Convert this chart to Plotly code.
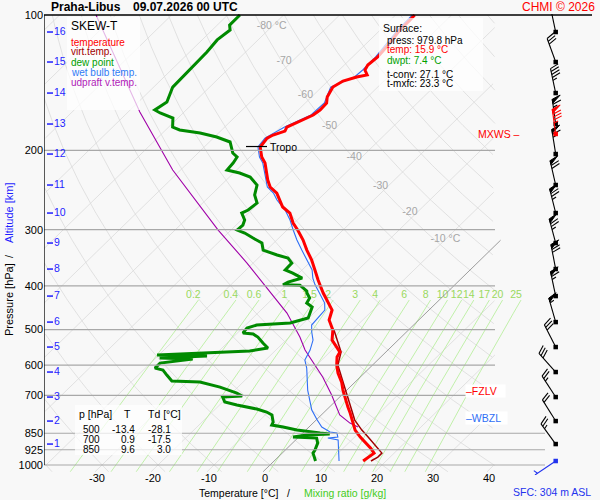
import numpy as np
import plotly.graph_objects as go

FONT = "Liberation Sans, Arial, sans-serif"

# --- sounding profiles: pressure [hPa], temperature [deg C] ---
temp_p = [100.0, 102.6, 108.0, 115.4, 124.0, 129.2, 132.5, 135.9, 137.3, 140.2,
          144.6, 152.1, 156.9, 162.6, 166.8, 172.0, 177.4, 181.1, 184.8, 187.7,
          196.5, 206.8, 213.3, 232.7, 241.1, 248.7, 257.7, 267.1, 275.5, 289.9,
          300.5, 316.3, 332.9, 350.4, 368.7, 388.1, 414.8, 434.4, 452.5, 476.3,
          501.3, 527.7, 546.9, 561.1, 575.6, 599.6, 624.7, 654.2, 681.5, 706.3,
          743.4, 766.6, 806.9, 836.3, 866.8, 894.3, 917.5, 940.9, 965.2, 979.8]
temp_t = [-56.6, -56.5, -56.5, -55.9, -55.5, -55.8, -55.4, -54.1, -55.6, -57.3,
          -58.0, -57.2, -56.2, -56.1, -56.4, -57.7, -58.9, -58.5, -59.9, -60.4,
          -60.0, -57.9, -56.2, -52.6, -50.9, -48.6, -46.8, -45.0, -42.6, -40.2,
          -38.1, -35.3, -32.8, -30.1, -27.7, -25.3, -22.0, -19.5, -17.3, -16.0,
          -13.5, -11.8, -9.7, -8.2, -7.8, -6.4, -4.7, -2.4, -0.7, 0.9,
          3.3, 4.8, 7.1, 8.8, 11.0, 13.1, 14.9, 16.4, 16.0, 15.9]

virt_p = [501.3, 561.1, 599.6, 654.2, 706.3, 743.4, 794.6, 836.3, 866.8, 903.0,
          940.9, 960.2, 979.8]
virt_t = [-13.3, -8.0, -6.2, -2.1, 1.5, 3.8, 6.9, 10.0, 12.4, 15.1,
          17.8, 17.8, 17.3]

dew_p = [100.0, 105.3, 108.0, 113.6, 120.9, 130.5, 138.0, 144.6, 156.1, 162.6,
         165.1, 169.4, 177.4, 180.1, 182.9, 186.7, 191.5, 202.6, 206.8, 213.3,
         221.1, 224.5, 229.1, 238.7, 251.2, 261.7, 271.3, 275.5, 285.5, 292.9,
         300.5, 305.2, 313.1, 321.2, 332.9, 341.5, 346.8, 355.8, 368.7, 374.5,
         384.2, 392.1, 397.5, 398.5, 410.6, 414.8, 425.6, 436.7, 445.7, 459.6,
         471.5, 483.7, 488.7, 496.2, 509.1, 511.7, 519.6, 535.8, 549.7, 558.2,
         564.0, 569.8, 572.7, 578.6, 581.6, 593.6, 609.0, 615.3, 631.2, 650.9,
         654.2, 671.2, 692.1, 702.8, 706.3, 724.7, 735.9, 751.1, 762.7, 774.5,
         802.8, 815.3, 823.6, 836.3, 849.3, 853.7, 858.1, 866.8, 871.3, 893.9,
         926.5, 940.9, 979.8]
dew_t = [-87.8, -87.8, -86.8, -87.3, -86.9, -86.7, -86.6, -86.6, -84.9, -85.6,
         -84.1, -80.9, -79.3, -77.5, -73.3, -69.6, -66.3, -63.8, -62.3, -61.9,
         -61.7, -58.9, -56.3, -53.6, -52.2, -50.3, -50.6, -51.2, -49.4, -48.8,
         -48.9, -47.0, -44.6, -42.1, -40.6, -37.2, -34.7, -33.1, -33.0, -31.1,
         -28.5, -30.3, -30.7, -27.6, -25.3, -24.9, -23.5, -23.1, -21.4, -20.7,
         -20.1, -22.4, -28.0, -29.2, -29.0, -27.0, -25.6, -23.6, -21.8, -24.5,
         -31.8, -40.3, -31.2, -39.3, -33.2, -38.3, -38.3, -36.5, -34.9, -32.9,
         -27.7, -23.2, -19.1, -17.6, -20.9, -19.6, -16.9, -12.6, -10.3, -8.8,
         -7.3, -7.0, -4.6, -1.6, 3.1, 5.0, 1.1, -1.0, 3.4, 4.5,
         5.3, 5.5, 7.4]

wet_p = [100.0, 108.0, 124.0, 132.5, 137.3, 144.6, 156.9, 166.8, 177.4, 187.7,
         196.5, 206.8, 213.3, 232.7, 241.1, 248.7, 257.7, 271.3, 285.5, 300.5,
         316.3, 332.9, 354.0, 368.7, 384.2, 398.2, 408.5, 423.4, 436.7, 452.5,
         488.7, 506.5, 527.7, 555.3, 584.5, 609.0, 640.9, 681.5, 717.3, 755.0,
         794.6, 823.6, 845.0, 849.3, 866.8, 871.3, 880.2, 917.5, 979.8]
wet_t = [-57.0, -56.9, -55.9, -55.8, -56.0, -58.4, -56.6, -56.8, -59.3, -60.8,
         -60.4, -58.3, -56.6, -53.0, -51.4, -49.2, -47.3, -44.0, -41.3, -38.9,
         -36.4, -33.7, -30.4, -28.2, -26.6, -24.9, -23.5, -21.5, -19.9, -18.6,
         -18.2, -16.9, -15.2, -13.9, -13.0, -11.2, -9.3, -7.0, -4.8, -2.6,
         0.2, 2.3, 4.7, 6.1, 7.0, 5.4, 7.6, 9.2, 11.6]

parcel_p = [100.0, 164.3, 221.1, 260.4, 300.5, 355.8, 402.3, 459.6, 519.6, 555.3,
            637.6, 699.2, 774.4, 807.0, 823.6]
parcel_t = [-113.5, -87.9, -71.4, -61.2, -52.3, -41.1, -33.2, -24.8, -18.1, -14.8,
            -6.7, -1.8, 3.3, 6.6, 8.75]

# --- altitude scale [km ASL] and winds at those levels ---
alt_km = [1, 2, 3, 4, 5, 6, 7, 8, 9, 10, 11, 12, 13, 14, 15, 16]
alt_p = [898.4, 798.7, 706.4, 621.5, 546.9, 481.3, 421.3, 366.9, 321.2, 275.5,
         238.7, 203.7, 174.7, 149.1, 127.2, 109.1]
wind_dir = [324, 328, 327, 318, 333, 344, 348, 349, 345, 346, 347, 351, 352, 348, 340, 348]
wind_kt = [25, 20, 25, 30, 30, 55, 65, 70, 75, 75, 70, 65, 65, 45, 30, 20]
sfc_p, sfc_dir, sfc_kt = 979.8, 236, 5
mxws_p, mxws_dir, mxws_kt = 183.8, 352, 85

# --- significant levels and tables ---
tropo_p = 196.0
fzlv_p = 685.0
wbzl_p = 787.0
press_ticks = [100, 200, 300, 400, 500, 600, 700, 850, 925, 1000]
temp_ticks = [-30, -20, -10, 0, 10, 20, 30, 40]
iso_label_t = [-80, -70, -60, -50, -40, -30, -20, -10]
iso_label_p = [106, 127, 151, 177, 207, 240, 274, 315]
mix_ratios = [0.2, 0.4, 0.6, 1, 1.5, 2, 3, 4, 6, 8, 10, 12, 14, 17, 20, 25]
table_p = [500, 700, 850]
table_t = [-13.4, 0.9, 9.6]
table_td = [-28.1, -17.5, 3.0]
surface_lines = [("press: 979.8 hPa", "black"), ("temp: 15.9 °C", "#ff0000"),
                 ("dwpt: 7.4 °C", "#00a000")]
conv_lines = ["t-conv: 27.1 °C", "t-mxfc: 23.3 °C"]

# --- diagram geometry (page pixels) ---
LEFT, RIGHT, TOP, BOTTOM = 44, 595, 14, 475
T0_PX, PX_PER_DEG = 270, 5.6                       # 0 degC at 1000 hPa
SKEW = 35.8                                        # degC per ln(1000/p)
PX_PER_LN = 450 / np.log(10)
X_GRID_MAX = (495 - T0_PX) / PX_PER_DEG
X_MIN = (LEFT - T0_PX) / PX_PER_DEG


def skew_x(t, p):
    return np.asarray(t, float) + SKEW * np.log(1000.0 / np.asarray(p, float))


def fx(px):
    return (px - LEFT) / (RIGHT - LEFT)


def fy(py):
    return (BOTTOM - py) / (BOTTOM - TOP)


def joined(lines):
    xs, ys = [], []
    for x, y in lines:
        xs += [None if not np.isfinite(v) else float(v) for v in x] + [None]
        ys += [float(v) for v in y] + [None]
    return xs, ys


def clip(x, hi=X_GRID_MAX):
    x = np.array(x, float)
    x[(x < X_MIN) | (x > hi)] = np.nan
    return x


def dewpoint_from_mixing(w, p):
    e = w * p / (622.0 + w)
    a = np.log(e / 6.112)
    return 243.5 * a / (17.67 - a)


fig = go.Figure()
pp = np.geomspace(1035, 100, 220)

# isotherms and dry adiabats
grid = []
for t in range(-140, 50, 10):
    if t != 0:
        grid.append((clip(skew_x(np.full_like(pp, t), pp)), pp))
for th in range(-40, 230, 10):
    tt = (th + 273.15) * (pp / 1000.0) ** 0.2857 - 273.15
    grid.append((clip(skew_x(tt, pp)), pp))
gx, gy = joined(grid)
fig.add_trace(go.Scatter(x=gx, y=gy, mode="lines", line=dict(color="#dadada", width=0.8),
                         hoverinfo="skip"))

# mixing ratio lines
mp = np.geomspace(1035, 430, 40)
mx, my = joined([(skew_x(dewpoint_from_mixing(w, mp), mp), mp) for w in mix_ratios])
fig.add_trace(go.Scatter(x=mx, y=my, mode="lines", line=dict(color="#b2ee96", width=0.8),
                         hoverinfo="skip"))
fig.add_trace(go.Scatter(
    x=[float(skew_x(dewpoint_from_mixing(w, 430.0), 430.0)) - 5 / PX_PER_DEG for w in mix_ratios],
    y=[419] * len(mix_ratios), mode="text",
    text=[f"{w:g}" for w in mix_ratios],
    textfont=dict(family=FONT, size=10.5, color="#9ad85e"), hoverinfo="skip"))

# 0 degC isotherm
fig.add_trace(go.Scatter(x=clip(skew_x(np.zeros_like(pp), pp), 41.5), y=pp, mode="lines",
                         line=dict(color="#858585", width=0.8), hoverinfo="skip"))

# isobars
iso_lines = [([LEFT, 495], [p, p]) for p in press_ticks if 100 < p <= 700]
iso_lines += [([LEFT, 545], [p, p]) for p in press_ticks if p > 700]
ix, iy = joined(iso_lines)
fig.add_trace(go.Scatter(x=ix, y=iy, xaxis="x2", mode="lines",
                         line=dict(color="#a8a8a8", width=1.2), hoverinfo="skip"))
fig.add_trace(go.Scatter(x=[LEFT, 592, None, LEFT, LEFT], y=[100, 100, None, 100, 1000],
                         xaxis="x2", mode="lines", line=dict(color="black", width=1.3),
                         hoverinfo="skip"))

# isotherm labels
fig.add_trace(go.Scatter(x=skew_x(iso_label_t, iso_label_p), y=iso_label_p, mode="text",
                         text=[str(t) for t in iso_label_t], textposition="middle left",
                         textfont=dict(family=FONT, size=10.5, color="#a6a6a6"),
                         hoverinfo="skip"))
fig.add_trace(go.Scatter(x=skew_x([iso_label_t[0], iso_label_t[-1]], [iso_label_p[0], iso_label_p[-1]]),
                         y=[iso_label_p[0], iso_label_p[-1]], mode="text", text=[" °C", " °C"],
                         textposition="middle right",
                         textfont=dict(family=FONT, size=10.5, color="#a6a6a6"),
                         hoverinfo="skip"))

# profiles
profiles = [
    (parcel_p, parcel_t, "#a000a8", 1.1),
    (wet_p, wet_t, "#2f6ff5", 1.1),
    (virt_p, virt_t, "#a00000", 1.5),
    (temp_p, temp_t, "#ff0000", 3.0),
    (dew_p, dew_t, "#008a00", 3.0),
]
for p, t, color, width in profiles:
    fig.add_trace(go.Scatter(x=skew_x(t, p), y=p, mode="lines",
                             line=dict(color=color, width=width), hoverinfo="skip"))

# tropopause mark
fig.add_trace(go.Scatter(x=[246, 267], y=[tropo_p, tropo_p], xaxis="x2", mode="lines",
                         line=dict(color="black", width=1.2), hoverinfo="skip"))

# altitude ticks on the left
ax, ay = joined([([47, 53], [p, p]) for p in alt_p])
fig.add_trace(go.Scatter(x=ax, y=ay, xaxis="x2", mode="lines",
                         line=dict(color="#1f1fff", width=1.5), hoverinfo="skip"))
fig.add_trace(go.Scatter(x=[54] * len(alt_p), y=alt_p, xaxis="x2", mode="text",
                         text=[str(k) for k in alt_km], textposition="middle right",
                         textfont=dict(family=FONT, size=10.5, color="#1f1fff"),
                         hoverinfo="skip"))


# wind barbs
def barb(p0, ddeg, kt, x0=555.7, staff=25.0):
    a = np.radians(ddeg)
    ux, uy = np.sin(a), np.cos(a)
    nx, ny = uy, -ux
    bx, by = 9 * (0.94 * nx + 0.34 * ux), 9 * (0.94 * ny + 0.34 * uy)

    def at(d, ox=0.0, oy=0.0):
        return x0 + d * ux + ox, p0 * np.exp(-(d * uy + oy) / PX_PER_LN)

    segs, flags = [[at(0), at(staff)]], []
    rest = int(round(kt / 5.0)) * 5
    nflag, rest = divmod(rest, 50)
    nfull, rest = divmod(rest, 10)
    d = staff
    for _ in range(nflag):
        flags.append([at(d), at(d, bx, by), at(d - 4), at(d)])
        d -= 5
    for _ in range(nfull):
        segs.append([at(d), at(d, bx, by)])
        d -= 3
    if rest >= 5:
        if d == staff:
            d -= 3
        segs.append([at(d), at(d, bx / 2, by / 2)])
    return segs, flags


def add_barbs(levels, color):
    segs, flags = [], []
    for p0, dd, kt in levels:
        s, f = barb(p0, dd, kt)
        segs += s
        flags += f
    sx, sy = joined([([q[0] for q in s], [q[1] for q in s]) for s in segs])
    fig.add_trace(go.Scatter(x=sx, y=sy, xaxis="x2", mode="lines",
                             line=dict(color=color, width=1.1), hoverinfo="skip"))
    if flags:
        fx_, fy_ = joined([([q[0] for q in f], [q[1] for q in f]) for f in flags])
        fig.add_trace(go.Scatter(x=fx_, y=fy_, xaxis="x2", mode="lines", fill="toself",
                                 fillcolor=color, line=dict(color=color, width=1),
                                 hoverinfo="skip"))
    fig.add_trace(go.Scatter(x=[555.7] * len(levels), y=[lv[0] for lv in levels], xaxis="x2",
                             mode="markers",
                             marker=dict(symbol="square", size=4.5, color=color),
                             hoverinfo="skip"))


add_barbs(list(zip(alt_p, wind_dir, wind_kt)), "black")
add_barbs([(mxws_p, mxws_dir, mxws_kt)], "#ff0000")
add_barbs([(sfc_p, sfc_dir, sfc_kt)], "#2233ee")


# --- texts ---
def note(text, px, py, size=10, color="black", xanchor="left", **kw):
    return dict(text=text, x=fx(px), y=fy(py), xref="paper", yref="paper", showarrow=False,
                xanchor=xanchor, yanchor="middle",
                font=dict(family=FONT, size=size, color=color), **kw)


notes = [
    note("<b>Praha-Libus</b>", 49, 7, size=12),
    note("<b>09.07.2026 00 UTC</b>", 131, 7, size=12),
    note("CHMI © 2026", 597, 7, size=12, color="#ff0000", xanchor="right"),
    note("SKEW-T", 69, 26, size=12),
    note("temperature", 69, 42, color="#ff0000"),
    note("virt.temp.", 69, 52, color="#a00000"),
    note("dew point", 69, 62, color="#00a000"),
    note("wet bulb temp.", 69, 72, color="#2f7bf5"),
    note("udpraft v.temp.", 69, 82, color="#b020b8"),
    note("Surface:", 381, 28, size=10.5),
    note("Temperature [°C]", 197, 493, size=10.5),
    note("/", 288, 493, size=10.5, xanchor="center"),
    note("Mixing ratio [g/kg]", 302, 493, size=10.5, color="#44cc22"),
    note("SFC: 304 m ASL", 511, 492, size=10.5, color="#2233ee"),
    note("Pressure [hPa]", 9, 300, size=11, textangle=-90, xanchor="center"),
    note("/", 9, 256, size=11, textangle=-90, xanchor="center"),
    note("Altitude [km]", 9, 213, size=11, color="#1f1fff", textangle=-90, xanchor="center"),
    note("p [hPa]", 77, 414, size=10.5),
    note("T", 127, 414, size=10.5, xanchor="center"),
    note("Td [°C]", 146, 414, size=10.5),
]
for i, (txt, col) in enumerate(surface_lines):
    notes.append(note(txt, 385, 40 + 10 * i, color=col))
for i, txt in enumerate(conv_lines):
    notes.append(note(txt, 385, 74 + 10 * i))
for i, (p, t, td) in enumerate(zip(table_p, table_t, table_td)):
    notes.append(note(str(p), 102, 429 + 10 * i, xanchor="right"))
    notes.append(note(f"{t:.1f}", 137, 429 + 10 * i, xanchor="right"))
    notes.append(note(f"{td:.1f}", 173, 429 + 10 * i, xanchor="right"))
for t in temp_ticks:
    notes.append(dict(text=str(t), x=t, y=fy(478), xref="x", yref="paper", showarrow=False,
                      xshift=-5.5, yanchor="middle",
                      font=dict(family=FONT, size=11, color="black")))
# level marks
notes.append(dict(text="Tropo", x=268, y=np.log10(tropo_p), xref="x2", yref="y",
                  showarrow=False, xanchor="left", yanchor="middle",
                  font=dict(family=FONT, size=10.5, color="black")))
notes.append(dict(text="MXWS –", x=522, y=np.log10(mxws_p), xref="x2", yref="y",
                  showarrow=False, xanchor="right", yanchor="middle",
                  font=dict(family=FONT, size=10.5, color="#ff0000")))
notes.append(dict(text="–FZLV&nbsp;&nbsp;&nbsp;", x=465, y=np.log10(fzlv_p), xref="x2", yref="y",
                  showarrow=False, xanchor="left", yanchor="middle", bgcolor="white",
                  borderpad=0, font=dict(family=FONT, size=10.5, color="#ff0000")))
notes.append(dict(text="–WBZL&nbsp;&nbsp;", x=465, y=np.log10(wbzl_p), xref="x2", yref="y",
                  showarrow=False, xanchor="left", yanchor="middle", bgcolor="white",
                  borderpad=0, font=dict(family=FONT, size=10.5, color="#2f6ff5")))


def box(x0, y0, x1, y1):
    return dict(type="rect", xref="paper", yref="paper", x0=fx(x0), x1=fx(x1),
                y0=fy(y1), y1=fy(y0), fillcolor="rgba(255,255,255,0.72)",
                line=dict(width=0), layer="above")


fig.update_layout(
    width=600, height=500,
    margin=dict(l=LEFT, r=600 - RIGHT, t=TOP, b=500 - BOTTOM, pad=0),
    paper_bgcolor="#f8f8f8", plot_bgcolor="#f8f8f8",
    showlegend=False,
    font=dict(family=FONT, size=11, color="black"),
    xaxis=dict(range=[X_MIN, (RIGHT - T0_PX) / PX_PER_DEG], showgrid=False, zeroline=False,
               showticklabels=False, ticks=""),
    xaxis2=dict(range=[LEFT, RIGHT], overlaying="x", anchor="y", visible=False),
    yaxis=dict(type="log", range=[3 + 10 / 450, 2 - 1 / 450], tickvals=press_ticks,
               ticktext=[str(p) for p in press_ticks], showgrid=False, zeroline=False,
               ticks="", tickfont=dict(family=FONT, size=11, color="black")),
    shapes=[box(67, 17, 140, 110), box(379, 18, 483, 91), box(75, 405, 182, 455)],
    annotations=notes,
)

# the page body keeps no margin so the figure sits at the window corner
fig.write_html("out.html", config={"displayModeBar": False},
               post_script="document.body.style.margin = '0';")
